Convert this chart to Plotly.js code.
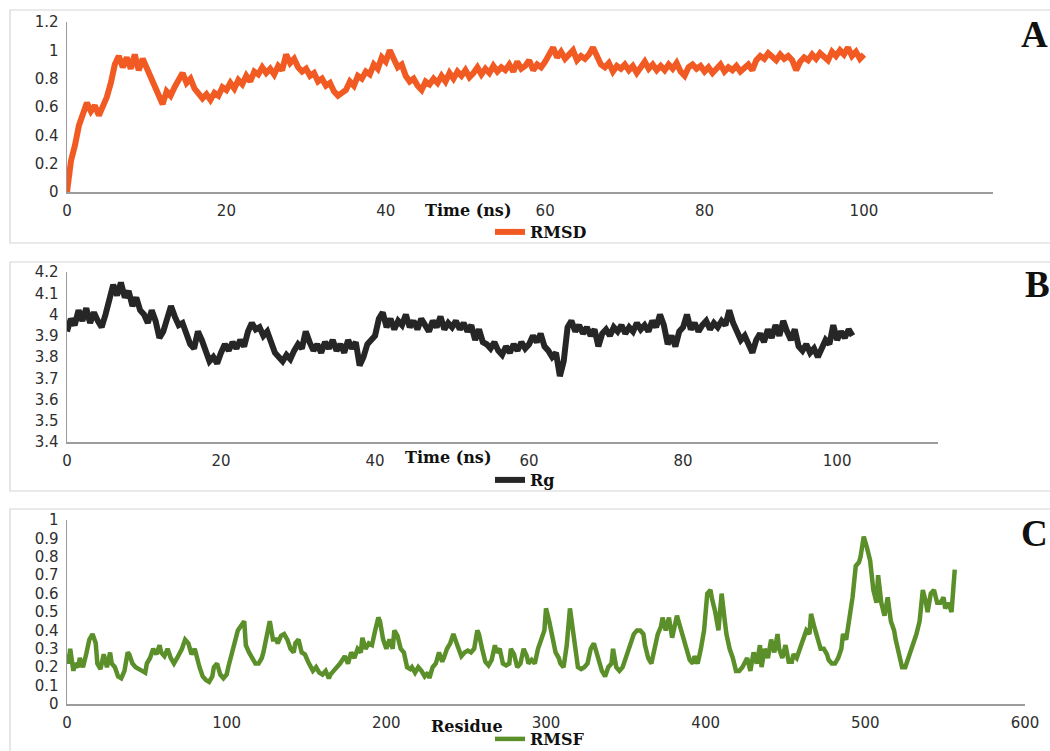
<!DOCTYPE html>
<html>
<head>
<meta charset="utf-8">
<script src="https://cdn.plot.ly/plotly-3.0.1.min.js"></script>
<style>
  html, body { margin: 0; padding: 0; background: #ffffff; }
  #chart { width: 1050px; height: 751px; }
</style>
</head>
<body>
<div id="chart"></div>
<script>
// ---- Panel A: backbone RMSD (nm), sampled every 0.5 ns ----
const rmsdStepNs = 0.5;
const rmsdValues = [
  0.00, 0.22, 0.33, 0.47, 0.55, 0.63, 0.57, 0.61, 0.54, 0.60,
  0.67, 0.77, 0.90, 0.96, 0.88, 0.95, 0.87, 0.97, 0.86, 0.94,
  0.88, 0.80, 0.74, 0.70, 0.62, 0.71, 0.68, 0.74, 0.80, 0.84,
  0.77, 0.80, 0.73, 0.70, 0.66, 0.69, 0.65, 0.70, 0.68, 0.74,
  0.72, 0.77, 0.73, 0.79, 0.76, 0.82, 0.78, 0.85, 0.83, 0.88,
  0.84, 0.87, 0.83, 0.89, 0.86, 0.97, 0.91, 0.94, 0.88, 0.85,
  0.87, 0.82, 0.84, 0.78, 0.80, 0.75, 0.77, 0.71, 0.68, 0.70,
  0.72, 0.78, 0.75, 0.82, 0.80, 0.85, 0.83, 0.90, 0.87, 0.95,
  0.92, 1.00, 0.93, 0.88, 0.90, 0.82, 0.78, 0.80, 0.75, 0.72,
  0.78, 0.76, 0.80, 0.77, 0.82, 0.78, 0.84, 0.80, 0.85, 0.82,
  0.86, 0.81, 0.84, 0.88, 0.83, 0.87, 0.84, 0.89, 0.85, 0.88,
  0.86, 0.90, 0.85, 0.92, 0.87, 0.89, 0.93, 0.86, 0.90, 0.88,
  0.92, 0.97, 1.02, 0.95, 0.99, 0.94, 0.97, 1.00, 0.93, 0.96,
  0.94, 0.97, 1.02, 0.96, 0.90, 0.88, 0.91, 0.85, 0.89, 0.87,
  0.90, 0.86, 0.89, 0.84, 0.88, 0.92, 0.87, 0.90, 0.86, 0.89,
  0.86, 0.90, 0.87, 0.91, 0.85, 0.82, 0.88, 0.90, 0.87, 0.89,
  0.85, 0.88, 0.84, 0.87, 0.90, 0.85, 0.88, 0.86, 0.89, 0.85,
  0.87, 0.90, 0.86, 0.93, 0.96, 0.94, 0.98, 0.95, 0.93, 0.97,
  0.94, 0.96, 0.93, 0.86, 0.92, 0.95, 0.93, 0.97, 0.94, 0.98,
  0.95, 0.93, 0.99, 0.96, 1.00, 0.97, 1.02, 0.96, 0.99, 0.94,
  0.97
];

// ---- Panel B: radius of gyration (nm), sampled every 0.5 ns ----
const rgStepNs = 0.5;
const rgValues = [
  3.92, 3.98, 3.95, 4.02, 3.97, 4.03, 3.96, 4.01, 3.97, 3.94,
  4.00, 4.08, 4.14, 4.09, 4.15, 4.08, 4.11, 4.04, 4.08, 4.02,
  4.00, 3.96, 4.02, 3.97, 3.89, 3.92, 3.98, 4.04, 3.99, 3.95,
  3.96, 3.90, 3.86, 3.84, 3.92, 3.88, 3.82, 3.78, 3.80, 3.77,
  3.82, 3.86, 3.83, 3.87, 3.84, 3.88, 3.85, 3.92, 3.96, 3.93,
  3.94, 3.90, 3.92, 3.86, 3.82, 3.80, 3.78, 3.81, 3.79, 3.83,
  3.86, 3.84, 3.92, 3.87, 3.83, 3.86, 3.82, 3.87, 3.84, 3.88,
  3.83, 3.86, 3.82, 3.88, 3.84, 3.87, 3.76, 3.80, 3.86, 3.88,
  3.90, 3.98, 4.01, 3.94, 3.98, 3.93, 3.97, 3.95, 4.00, 3.94,
  3.97, 3.93, 3.98, 3.95, 3.92, 3.97, 3.94, 3.99, 3.93, 3.96,
  3.94, 3.97, 3.93, 3.96, 3.92, 3.95, 3.88, 3.93, 3.87, 3.86,
  3.84, 3.87, 3.83, 3.81, 3.85, 3.82, 3.86, 3.83, 3.87, 3.84,
  3.86, 3.90, 3.87, 3.91, 3.85, 3.83, 3.80, 3.82, 3.71, 3.78,
  3.94, 3.97, 3.92, 3.95, 3.91, 3.94, 3.90, 3.93, 3.85, 3.91,
  3.93, 3.90, 3.94, 3.92, 3.95, 3.91, 3.94, 3.92, 3.96, 3.93,
  3.95, 3.92, 3.97, 3.94, 4.00, 3.95, 3.86, 3.90, 3.85, 3.92,
  3.94, 4.00, 3.93, 3.96, 3.92, 3.95, 3.97, 3.93, 3.96, 3.94,
  3.97, 3.95, 4.02, 3.96, 3.92, 3.88, 3.90, 3.86, 3.82, 3.88,
  3.91, 3.87, 3.93, 3.89, 3.95, 3.90, 3.97, 3.92, 3.88, 3.93,
  3.85, 3.83, 3.86, 3.82, 3.84, 3.80, 3.85, 3.88, 3.86, 3.95,
  3.88, 3.92, 3.89, 3.93, 3.90
];

// ---- Panel C: per-residue RMSF (nm) ----
const rmsfResidues = [
  0, 1, 2, 4, 5, 7, 8, 10, 12, 14, 16, 18, 19, 21, 23, 25, 27, 28, 30, 32,
  34, 36, 38, 39, 41, 43, 47, 49, 50, 52, 54, 56, 58, 59, 61, 63, 65, 67, 69, 72,
  74, 76, 78, 80, 83, 85, 87, 89, 91, 92, 94, 96, 98, 100, 101, 103, 107, 111, 112, 114,
  116, 118, 120, 122, 123, 125, 127, 129, 131, 132, 134, 136, 138, 140, 142, 143, 145, 147, 149, 151,
  153, 154, 156, 158, 160, 162, 164, 165, 167, 171, 174, 176, 178, 180, 182, 184, 185, 187, 189, 191,
  193, 195, 196, 198, 200, 202, 204, 205, 207, 209, 211, 213, 215, 216, 218, 220, 222, 224, 226, 227,
  229, 231, 233, 235, 236, 238, 240, 242, 244, 246, 247, 249, 251, 253, 255, 257, 258, 260, 262, 264,
  266, 268, 269, 271, 273, 275, 277, 278, 280, 282, 284, 286, 288, 289, 291, 293, 295, 299, 300, 302,
  304, 306, 308, 309, 311, 313, 315, 317, 319, 320, 322, 324, 326, 328, 330, 331, 333, 335, 337, 339,
  341, 342, 344, 346, 348, 350, 353, 355, 357, 359, 361, 362, 364, 366, 368, 370, 372, 373, 375, 377,
  379, 381, 382, 384, 386, 388, 390, 392, 393, 395, 397, 399, 401, 403, 404, 406, 408, 410, 412, 413,
  415, 417, 419, 421, 423, 424, 426, 428, 430, 432, 434, 435, 437, 439, 441, 443, 445, 446, 448, 450,
  452, 454, 455, 457, 459, 461, 463, 465, 466, 468, 470, 472, 474, 476, 477, 479, 481, 483, 485, 486,
  488, 490, 492, 494, 496, 497, 499, 501, 503, 505, 507, 508, 510, 512, 514, 516, 518, 519, 521, 523,
  525, 527, 528, 530, 532, 534, 536, 538, 539, 541, 543, 545, 547, 549, 550, 552, 554, 556
];
const rmsfValues = [
  0.27, 0.22, 0.30, 0.18, 0.22, 0.20, 0.25, 0.20, 0.27, 0.35, 0.38, 0.33, 0.22, 0.19, 0.27, 0.20, 0.28, 0.22, 0.20, 0.15,
  0.14, 0.18, 0.28, 0.27, 0.22, 0.20, 0.18, 0.17, 0.22, 0.25, 0.30, 0.27, 0.32, 0.28, 0.26, 0.30, 0.25, 0.22, 0.25, 0.30,
  0.35, 0.33, 0.27, 0.30, 0.20, 0.15, 0.13, 0.12, 0.15, 0.20, 0.22, 0.16, 0.14, 0.16, 0.20, 0.27, 0.40, 0.45, 0.32, 0.28,
  0.25, 0.22, 0.22, 0.25, 0.28, 0.38, 0.45, 0.35, 0.35, 0.33, 0.37, 0.38, 0.35, 0.30, 0.28, 0.33, 0.35, 0.28, 0.27, 0.23,
  0.20, 0.18, 0.20, 0.17, 0.16, 0.18, 0.14, 0.16, 0.18, 0.22, 0.26, 0.22, 0.28, 0.25, 0.30, 0.28, 0.36, 0.30, 0.33, 0.32,
  0.40, 0.47, 0.45, 0.35, 0.30, 0.35, 0.30, 0.40, 0.37, 0.30, 0.28, 0.20, 0.19, 0.20, 0.17, 0.20, 0.18, 0.15, 0.17, 0.14,
  0.20, 0.22, 0.28, 0.23, 0.25, 0.30, 0.33, 0.38, 0.33, 0.27, 0.26, 0.28, 0.29, 0.28, 0.30, 0.40, 0.38, 0.30, 0.23, 0.21,
  0.24, 0.32, 0.28, 0.30, 0.22, 0.21, 0.22, 0.30, 0.27, 0.20, 0.22, 0.30, 0.26, 0.22, 0.24, 0.22, 0.30, 0.40, 0.52, 0.45,
  0.35, 0.28, 0.25, 0.22, 0.20, 0.32, 0.52, 0.40, 0.28, 0.20, 0.19, 0.20, 0.22, 0.30, 0.33, 0.30, 0.22, 0.18, 0.15, 0.20,
  0.22, 0.30, 0.20, 0.18, 0.20, 0.25, 0.32, 0.38, 0.40, 0.40, 0.38, 0.32, 0.25, 0.22, 0.30, 0.38, 0.42, 0.47, 0.40, 0.47,
  0.36, 0.45, 0.48, 0.42, 0.35, 0.30, 0.24, 0.22, 0.26, 0.22, 0.30, 0.40, 0.60, 0.62, 0.57, 0.50, 0.40, 0.60, 0.45, 0.38,
  0.30, 0.25, 0.18, 0.18, 0.20, 0.22, 0.25, 0.18, 0.28, 0.22, 0.32, 0.20, 0.30, 0.25, 0.35, 0.28, 0.38, 0.30, 0.25, 0.32,
  0.23, 0.23, 0.27, 0.25, 0.30, 0.35, 0.40, 0.38, 0.49, 0.42, 0.35, 0.30, 0.30, 0.27, 0.24, 0.22, 0.22, 0.25, 0.30, 0.38,
  0.35, 0.45, 0.58, 0.75, 0.77, 0.80, 0.91, 0.85, 0.78, 0.62, 0.55, 0.70, 0.55, 0.48, 0.58, 0.45, 0.40, 0.35, 0.28, 0.20,
  0.20, 0.25, 0.27, 0.32, 0.38, 0.45, 0.62, 0.55, 0.50, 0.60, 0.62, 0.55, 0.55, 0.58, 0.52, 0.55, 0.50, 0.73
];

// Tick labels
const timeTicks = [0, 20, 40, 60, 80, 100];
const residueTicks = [0, 100, 200, 300, 400, 500, 600];

// Sampling grids for the two time series
const rmsdTime = rmsdValues.map((_, i) => i * rmsdStepNs);
const rgTime = rgValues.map((_, i) => i * rgStepNs);

// Pixel -> paper helpers for the fixed 1050x751 canvas
const W = 1050, H = 751;
const fx = x => x / W;
const fy = y => 1 - y / H;

const tickFont = { family: 'DejaVu Sans, Verdana, sans-serif', size: 15, color: '#2e2e2e' };
const serifBold = { family: 'DejaVu Serif, Liberation Serif, serif', size: 16, color: '#111111', weight: 'bold' };

function axisStyle(extra) {
  return Object.assign({
    showgrid: false,
    zeroline: false,
    showline: true,
    linecolor: '#9c9c9c',
    linewidth: 1.5,
    ticks: '',
    ticklabelstandoff: 4,
    tickfont: tickFont,
    fixedrange: true
  }, extra);
}

const traces = [
  {
    type: 'scatter', mode: 'lines', name: 'RMSD',
    x: rmsdTime, y: rmsdValues, xaxis: 'x', yaxis: 'y',
    line: { color: '#F15A22', width: 6 },
    legend: 'legend'
  },
  {
    type: 'scatter', mode: 'lines', name: 'Rg',
    x: rgTime, y: rgValues, xaxis: 'x2', yaxis: 'y2',
    line: { color: '#262626', width: 6 },
    legend: 'legend2'
  },
  {
    type: 'scatter', mode: 'lines', name: 'RMSF',
    x: rmsfResidues, y: rmsfValues, xaxis: 'x3', yaxis: 'y3',
    line: { color: '#5B8F29', width: 4.5 },
    legend: 'legend3'
  }
];

// Legends are placed against the whole canvas so they never push the margins
function legendAt(yPx) {
  return {
    xref: 'container', yref: 'container',
    x: fx(490), xanchor: 'left',
    y: fy(yPx), yanchor: 'middle',
    bgcolor: 'rgba(0,0,0,0)', borderwidth: 0,
    font: serifBold
  };
}

function panelBox(top, bottom) {
  return {
    type: 'rect', xref: 'paper', yref: 'paper', layer: 'below',
    x0: fx(10), x1: fx(1075), y0: fy(bottom), y1: fy(top),
    line: { color: '#d6d6d6', width: 1.2 }, fillcolor: 'rgba(0,0,0,0)'
  };
}

function note(text, xPx, yPx, font, xanchor) {
  return {
    text: text, xref: 'paper', yref: 'paper',
    x: fx(xPx), y: fy(yPx), xanchor: xanchor || 'center', yanchor: 'middle',
    showarrow: false, font: font
  };
}

const panelLetterFont = { family: 'Liberation Serif, Times New Roman, serif', size: 37, color: '#111111', weight: 'bold' };

const layout = {
  width: W, height: H,
  margin: { l: 0, r: 0, t: 0, b: 0, autoexpand: false },
  paper_bgcolor: '#ffffff', plot_bgcolor: '#ffffff',
  showlegend: true,
  xaxis: axisStyle({ domain: [fx(67), fx(993)], range: [0, 116.2], tickvals: timeTicks, anchor: 'y' }),
  yaxis: axisStyle({ domain: [fy(192), fy(22)], range: [0, 1.2], dtick: 0.2, tick0: 0, anchor: 'x' }),
  xaxis2: axisStyle({ domain: [fx(67), fx(938)], range: [0, 113.1], tickvals: timeTicks, anchor: 'y2' }),
  yaxis2: axisStyle({ domain: [fy(442), fy(272)], range: [3.4, 4.2], dtick: 0.1, tick0: 3.4, anchor: 'x2' }),
  xaxis3: axisStyle({ domain: [fx(67), fx(1025)], range: [0, 600], tickvals: residueTicks, anchor: 'y3' }),
  yaxis3: axisStyle({ domain: [fy(704), fy(520)], range: [0, 1], dtick: 0.1, tick0: 0, anchor: 'x3' }),
  legend: legendAt(232),
  legend2: legendAt(480),
  legend3: legendAt(739),
  shapes: [panelBox(10, 243), panelBox(262, 491), panelBox(509, 770)],
  annotations: [
    note('Time (ns)', 468, 211, serifBold),
    note('Time (ns)', 448, 458, serifBold),
    note('Residue', 467, 726, serifBold),
    note('A', 1019, 34, panelLetterFont, 'left'),
    note('B', 1023, 284, panelLetterFont, 'left'),
    note('C', 1019, 533, panelLetterFont, 'left')
  ]
};

Plotly.newPlot('chart', traces, layout, { staticPlot: true, displayModeBar: false });
</script>
</body>
</html>
